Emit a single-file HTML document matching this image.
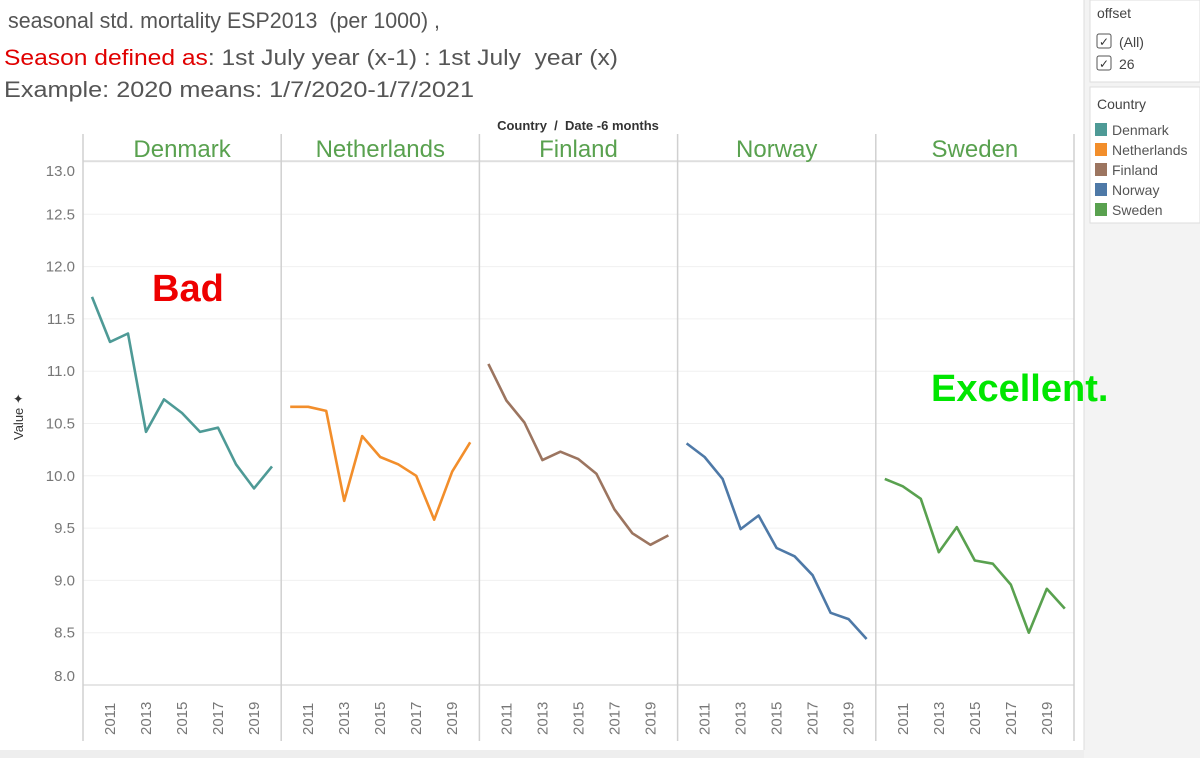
<!DOCTYPE html>
<html><head><meta charset="utf-8">
<style>
body{margin:0;width:1200px;height:758px;overflow:hidden;background:#fff;font-family:"Liberation Sans",sans-serif}
svg{position:absolute;left:0;top:0}
text{white-space:pre}
</style></head>
<body>
<svg width="1200" height="758">
<rect x="0" y="0" width="1200" height="758" fill="#fff"/>
<rect x="1084" y="0" width="116" height="758" fill="#f3f3f3"/>
<rect x="0" y="750" width="1084" height="8" fill="#eeeeee"/>
<line x1="1084" y1="0" x2="1084" y2="750" stroke="#ddd"/>
<g font-size="22" fill="#555">
<text x="8" y="28" textLength="432" lengthAdjust="spacingAndGlyphs">seasonal std. mortality ESP2013  (per 1000) ,</text>
<text x="4" y="65" textLength="614" lengthAdjust="spacingAndGlyphs"><tspan fill="#e00000">Season defined as</tspan>: 1st July year (x-1) : 1st July  year (x)</text>
<text x="4" y="97" textLength="470" lengthAdjust="spacingAndGlyphs">Example: 2020 means: 1/7/2020-1/7/2021</text>
</g>
<text x="578" y="130" font-size="13" font-weight="bold" fill="#333" text-anchor="middle">Country  /  Date -6 months</text>
<g>
<rect x="1090" y="0" width="110" height="82" fill="#fff" stroke="#ddd"/>
<text x="1097" y="18" font-size="14" fill="#444">offset</text>
<rect x="1097" y="34" width="14" height="14" fill="#fff" stroke="#555" rx="2"/><text x="1099" y="46" font-size="12" fill="#333">✓</text>
<text x="1119" y="47" font-size="14" fill="#444">(All)</text>
<rect x="1097" y="56" width="14" height="14" fill="#fff" stroke="#555" rx="2"/><text x="1099" y="68" font-size="12" fill="#333">✓</text>
<text x="1119" y="69" font-size="14" fill="#444">26</text>
</g>
<g id="legend">
<rect x="1090" y="87" width="110" height="136" fill="#fff" stroke="#ddd"/>
<text x="1097" y="109" font-size="14" fill="#444">Country</text>
</g>
<g id="plot"></g>
<text x="152" y="301" font-size="38" font-weight="bold" fill="#ee0000">Bad</text>
<text x="931" y="401" font-size="38" font-weight="bold" fill="#00e600">Excellent.</text>
<g transform="translate(23,440) rotate(-90)"><text x="0" y="0" font-size="13" fill="#333">Value ✦</text></g>
</svg>
<script>
const countries=["Denmark","Netherlands","Finland","Norway","Sweden"];
const colors=["#4e9a96","#f28e2b","#9c7560","#4e79a7","#59a14f"];
const years=[2010,2011,2012,2013,2014,2015,2016,2017,2018,2019,2020];
const yTicks=[8.0,8.5,9.0,9.5,10.0,10.5,11.0,11.5,12.0,12.5,13.0];
const xTicks=[2011,2013,2015,2017,2019];
const denmark=[11.71,11.28,11.36,10.42,10.73,10.60,10.42,10.46,10.11,9.88,10.09];
const netherlands=[10.66,10.66,10.62,9.76,10.38,10.18,10.11,10.0,9.58,10.04,10.32];
const finland=[11.07,10.72,10.51,10.15,10.23,10.16,10.02,9.68,9.45,9.34,9.43];
const norway=[10.31,10.18,9.97,9.49,9.62,9.31,9.23,9.05,8.69,8.63,8.44];
const sweden=[9.97,9.90,9.78,9.27,9.51,9.19,9.16,8.96,8.50,8.92,8.73];
const series=[denmark,netherlands,finland,norway,sweden];
const NS="http://www.w3.org/2000/svg";
const plotG=document.getElementById('plot');
const plotLeft=83,panelW=198.2,plotTop=162,plotBottom=685;
function yScale(v){return plotBottom-(v-8)/(13-8)*(plotBottom-plotTop);}
function xScale(i,yr){return plotLeft+i*panelW+9+(yr-2010)*18;}
function mk(tag,attrs,parent){const e=document.createElementNS(NS,tag);for(const k in attrs)e.setAttribute(k,attrs[k]);(parent||plotG).appendChild(e);return e;}
yTicks.forEach(v=>{
  const g=mk('line',{x1:plotLeft,x2:plotLeft+5*panelW,y1:yScale(v),y2:yScale(v),stroke:'#f0f0f0'});
  
  
  let ty=yScale(v)+5; if(v===13)ty=yScale(v)+14; if(v===8)ty=yScale(v)-4;
  const t=mk('text',{x:75,y:ty,'font-size':15,fill:'#777','text-anchor':'end'});
  t.textContent=v.toFixed(1);
  
  
});
mk('line',{x1:plotLeft,x2:plotLeft+5*panelW,y1:161,y2:161,stroke:'#ccc'});
mk('line',{x1:plotLeft,x2:plotLeft+5*panelW,y1:685,y2:685,stroke:'#ccc'});
for(let i=0;i<=5;i++){mk('line',{x1:plotLeft+i*panelW,x2:plotLeft+i*panelW,y1:134,y2:741,stroke:'#d0d0d0','stroke-width':1.5});}
const lg=document.getElementById('legend');
countries.forEach((c,i)=>{
  const h=mk('text',{x:plotLeft+i*panelW+panelW/2,y:157,'font-size':24,fill:'#59a14f','text-anchor':'middle'});
  h.textContent=c;
  
  
  xTicks.forEach(yr=>{
    const t=mk('text',{transform:'translate('+(xScale(i,yr)+5)+',735) rotate(-90)','font-size':15,fill:'#777'});
    t.textContent=yr;
    
    
  });
  const d=series[i].map((v,j)=>(j?'L':'M')+xScale(i,years[j]).toFixed(1)+','+yScale(v).toFixed(1)).join('');
  const p=mk('path',{d:d,fill:'none',stroke:colors[i],'stroke-width':2.6,'stroke-linejoin':'round'});
  
  
  const r=mk('rect',{x:1095,y:123+i*20,width:12,height:13,fill:colors[i]},lg);
  
  
  const lt=mk('text',{x:1112,y:135+i*20,'font-size':14,fill:'#555'},lg);
  lt.textContent=c;
  
  
});
</script>
</body></html>
